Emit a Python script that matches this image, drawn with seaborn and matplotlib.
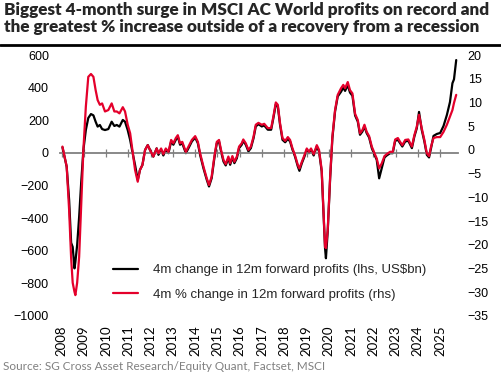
import matplotlib
matplotlib.use("Agg")
import matplotlib.pyplot as plt
from matplotlib.lines import Line2D
import seaborn as sns
import pandas as pd


dates = [
    2008.04, 2008.23, 2008.34, 2008.43, 2008.50, 2008.58, 2008.62, 2008.70, 2008.79, 2008.88, 2008.98,
    2009.09, 2009.20, 2009.32, 2009.43, 2009.53, 2009.62, 2009.72, 2009.82, 2009.95,
    2010.10, 2010.25, 2010.37, 2010.48, 2010.60, 2010.75, 2010.85, 2010.97,
    2011.08, 2011.18, 2011.30, 2011.42, 2011.52, 2011.63, 2011.75, 2011.87, 2011.97,
    2012.12, 2012.27, 2012.35, 2012.47, 2012.57, 2012.68, 2012.80, 2012.92,
    2013.02, 2013.13, 2013.22, 2013.32, 2013.42, 2013.58, 2013.70, 2013.85,
    2014.00, 2014.12, 2014.22, 2014.37, 2014.52, 2014.62, 2014.74, 2014.86, 2014.97,
    2015.07, 2015.16, 2015.27, 2015.37, 2015.49, 2015.57, 2015.67, 2015.76, 2015.87, 2015.97,
    2016.09, 2016.16, 2016.27, 2016.39, 2016.50, 2016.62, 2016.72, 2016.84, 2016.99,
    2017.10, 2017.26, 2017.41, 2017.51, 2017.62, 2017.71, 2017.81, 2017.92,
    2018.04, 2018.16, 2018.26, 2018.37, 2018.48, 2018.61, 2018.68, 2018.79, 2018.89,
    2019.01, 2019.11, 2019.20, 2019.32, 2019.46, 2019.56, 2019.68, 2019.76, 2019.83, 2019.87, 2019.95,
    2020.06, 2020.16, 2020.28, 2020.40, 2020.55, 2020.65, 2020.73, 2020.85, 2020.95,
    2021.06, 2021.18, 2021.30, 2021.40, 2021.51, 2021.60, 2021.70, 2021.81, 2021.93,
    2022.05, 2022.15, 2022.26, 2022.38, 2022.50, 2022.60, 2022.75, 2022.87, 2022.98,
    2023.10, 2023.20, 2023.30, 2023.43, 2023.57, 2023.73, 2023.84, 2023.95,
    2024.05, 2024.17, 2024.29, 2024.40, 2024.50, 2024.59, 2024.70, 2024.85,
    2025.00, 2025.15, 2025.30, 2025.44, 2025.55, 2025.62, 2025.72,
]

# 4m change in 12m forward profits, US$bn (lhs)
profit_chg = [
    34, -85, -289, -551, -577, -708, -669, -565, -391, -185, 18,
    140, 214, 238, 230, 191, 161, 171, 146, 140,
    146, 191, 165, 171, 161, 202, 191, 140,
    79, 7, -74, -166, -105, -74, 18, 48, 18,
    -23, 28, -12, 19, -16, 19, -2, 70,
    50, 80, 100, 50, 59, -2, 29, 70,
    94, 59, -12, -94, -165, -206, -155, -33, 59,
    70, 9, -53, -77, -33, -73, -28, -63, -33, 29,
    50, 74, 50, 9, 29, 90, 162, 176, 162,
    168, 142, 142, 213, 298, 284, 172, 80,
    65, 86, 70, 19, -22, -84, -110, -63, -28,
    19, -2, 19, -16, 39, 9, -114, -359, -584, -646, -482,
    -155, 90, 254, 346, 375, 400, 380, 415, 370,
    350, 229, 192, 111, 131, 162, 121, 94, 29,
    -12, -42, -156, -93, -28, -16, -2, -2, 74,
    80, 59, 39, 70, 74, 29, 100, 151,
    251, 142, 70, -12, -28, 29, 104, 116,
    122, 165, 232, 312, 427, 451, 569,
]

# 4m % change in 12m forward profits (rhs)
pct_chg = [
    0.7, -3.5, -12.7, -22.8, -28.0, -29.9, -30.6, -28.0, -22.5, -12.0, 0.0,
    9.1, 15.4, 16.0, 15.4, 12.6, 10.5, 9.5, 9.8, 8.1,
    8.4, 9.8, 8.1, 8.1, 7.7, 9.0, 8.1, 5.3,
    3.5, 0.0, -4.2, -6.7, -4.2, -3.2, 0.0, 1.0, 0.0,
    -1.4, 0.3, -0.7, 0.3, -0.9, 0.3, -0.4, 2.1,
    1.4, 2.5, 3.1, 1.4, 1.7, -0.4, 0.7, 2.1,
    2.9, 1.7, -0.7, -3.5, -6.0, -7.4, -5.6, -1.4, 1.7,
    2.1, 0.0, -2.1, -3.0, -1.4, -2.8, -1.3, -2.5, -1.4, 0.7,
    1.4, 2.2, 1.4, 0.0, 0.7, 2.8, 5.3, 5.7, 5.3,
    5.5, 4.6, 4.6, 7.0, 10.0, 9.5, 5.6, 2.5,
    1.9, 2.7, 2.1, 0.3, -1.1, -3.2, -3.9, -2.5, -1.3,
    0.3, -0.4, 0.3, -0.9, 1.0, 0.0, -4.2, -12.7, -20.4, -20.7, -16.9,
    -5.6, 2.8, 8.4, 11.6, 13.0, 13.7, 13.0, 14.3, 12.6,
    11.9, 7.6, 6.3, 3.5, 4.2, 5.3, 3.8, 2.9, 0.7,
    -0.7, -1.8, -3.9, -2.8, -1.3, -0.9, -0.4, -0.4, 2.2,
    2.5, 1.7, 1.0, 2.1, 2.2, 0.7, 3.1, 4.9,
    7.4, 4.6, 2.1, -0.7, -1.3, 0.7, 2.5, 2.7,
    2.7, 3.8, 5.3, 7.0, 8.4, 9.9, 11.6,
]

years = list(range(2008, 2026))
left_ticks = list(range(-1000, 601, 200))
right_ticks = list(range(-35, 21, 5))

label_usd = "4m change in 12m forward profits (lhs, US$bn)"
label_pct = "4m % change in 12m forward profits (rhs)"
title = ("Biggest 4-month surge in MSCI AC World profits on record and\n"
         "the greatest % increase outside of a recovery from a recession")
source = "Source: SG Cross Asset Research/Equity Quant, Factset, MSCI"

RED = "#e4002b"
GREY = "#808080"


def main():
    sns.set_theme(style="white")
    plt.rcParams["font.family"] = ["Liberation Sans", "DejaVu Sans"]

    df = pd.DataFrame({"date": dates, "usd": profit_chg, "pct": pct_chg})

    fig = plt.figure(figsize=(5.02, 3.75), dpi=100)
    ax = fig.add_axes([60 / 502, 1 - 316 / 375, 398 / 502, 261 / 375])
    ax2 = ax.twinx()

    sns.lineplot(df, x="date", y="usd", ax=ax, color="black", lw=1.6, label=label_usd)
    sns.lineplot(df, x="date", y="pct", ax=ax2, color=RED, lw=1.6, label=label_pct)

    h1, l1 = ax.get_legend_handles_labels()
    h2, l2 = ax2.get_legend_handles_labels()
    ax.get_legend().remove()
    ax2.get_legend().remove()

    ax.set_xlim(2007.93, 2025.80)
    ax.set_ylim(-1000, 600)
    ax2.set_ylim(-35, 20)
    for a in (ax, ax2):
        a.set_xlabel("")
        a.set_ylabel("")
        for s in a.spines.values():
            s.set_visible(False)

    # axis line sits on zero with ticks crossing it
    ax.spines["bottom"].set_visible(True)
    ax.spines["bottom"].set_position(("data", 0))
    ax.spines["bottom"].set_color(GREY)
    ax.spines["bottom"].set_linewidth(1.3)
    ax.set_xticks(years)
    ax.tick_params(axis="x", bottom=True, direction="inout", length=6, width=0.9,
                   color=GREY, labelbottom=False)

    sec = ax.secondary_xaxis("bottom")
    sec.spines["bottom"].set_visible(False)
    sec.set_xticks(years)
    sec.set_xticklabels([str(y) for y in years], rotation=90, fontfamily="Lato", fontsize=9.5)
    sec.tick_params(length=0, pad=7, labelcolor="black")

    ax.set_yticks(left_ticks)
    ax.tick_params(axis="y", left=False, length=0, pad=8, labelsize=9, labelcolor="black")
    ax2.set_yticks(right_ticks)
    ax2.tick_params(axis="y", right=False, length=0, pad=7, labelsize=9, labelcolor="black")

    fig.legend(h1 + h2, l1 + l2, loc="upper left", bbox_to_anchor=(113 / 502, 1 - 264 / 375),
               frameon=False, fontsize=9.5, handlelength=1.9, handletextpad=1.1,
               labelspacing=0.95, borderpad=0, borderaxespad=0)

    fig.text(0.008, 0.996, title, ha="left", va="top", fontfamily="Lato",
             fontweight="heavy", fontsize=12.3, linespacing=1.08)
    fig.add_artist(Line2D([0, 1], [1 - 45 / 375] * 2, transform=fig.transFigure,
                          color="black", lw=2))
    fig.text(0.006, 1 - 367 / 375, source, ha="left", va="center", color=GREY,
             fontfamily="Lato", fontsize=8.5)

    fig.savefig("out.png", dpi=100)


if __name__ == "__main__":
    main()
